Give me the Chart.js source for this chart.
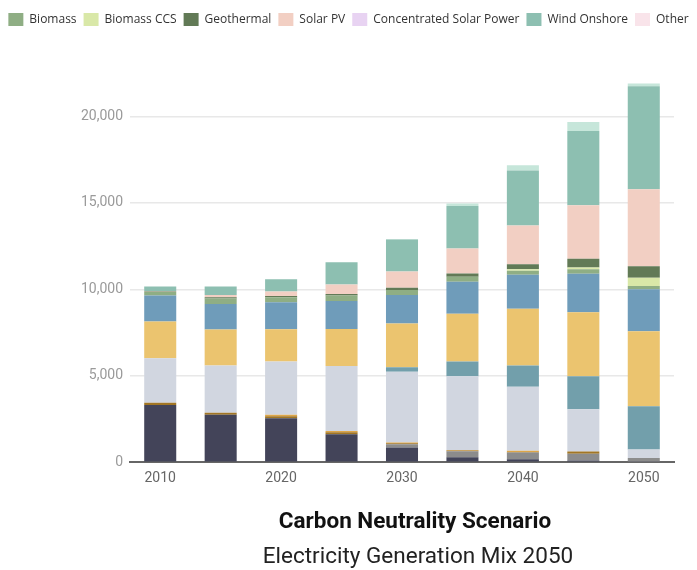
<!DOCTYPE html>
<html>
<head>
<meta charset="utf-8">
<script src="https://cdn.jsdelivr.net/npm/chart.js@4.4.1/dist/chart.umd.min.js"></script>
<style>
  body { margin: 0; background: #fff; }
  #wrap { position: relative; width: 697px; height: 570px; }
  #title, #subtitle {
    position: absolute; width: 500px; text-align: center;
    font-family: Roboto, sans-serif; line-height: 1; white-space: nowrap;
  }
  #title { left: 165px; top: 509px; font-size: 22.5px; font-weight: bold; color: #111; }
  #subtitle { left: 168px; top: 544px; font-size: 22.5px; color: #222; }
</style>
</head>
<body>
<div id="wrap">
  <canvas id="myChart" width="697" height="570"></canvas>
  <div id="title">Carbon Neutrality Scenario</div>
  <div id="subtitle">Electricity Generation Mix 2050</div>
</div>
<script>
var years = ["2010", "2015", "2020", "2025", "2030", "2035", "2040", "2045", "2050"];
var yTicks = [0, 5000, 10000, 15000, 20000];

var coal         = [3310, 2740, 2540, 1620, 850, 290, 170, 100, 20];
var coalCcs      = [0, 0, 0, 0, 190, 350, 390, 390, 230];
var oil          = [130, 120, 120, 110, 60, 30, 30, 130, 0];
var oilOther     = [0, 0, 90, 80, 40, 30, 70, 0, 0];
var gas          = [2580, 2740, 3080, 3760, 4090, 4280, 3700, 2450, 480];
var gasCcs       = [0, 0, 0, 0, 270, 850, 1230, 1910, 2510];
var nuclear      = [2120, 2080, 1870, 2140, 2520, 2760, 3290, 3700, 4340];
var hydro        = [1500, 1480, 1560, 1620, 1660, 1850, 1970, 2220, 2430];
var biomass      = [210, 310, 290, 310, 290, 290, 230, 270, 190];
var biomassCcs   = [0, 0, 0, 0, 0, 0, 80, 100, 480];
var geothermal   = [30, 80, 60, 100, 120, 190, 290, 500, 660];
var solarPv      = [20, 130, 270, 540, 940, 1450, 2250, 3100, 4450];
var csp          = [0, 0, 0, 0, 0, 0, 0, 0, 0];
var windOnshore  = [270, 480, 710, 1290, 1850, 2450, 3180, 4300, 5970];
var windOffshore = [0, 0, 0, 0, 30, 150, 310, 520, 160];
var other        = [0, 0, 0, 0, 0, 0, 0, 0, 0];

var shownInLegend = ["Biomass", "Biomass CCS", "Geothermal", "Solar PV",
  "Concentrated Solar Power", "Wind Onshore", "Other"];

function series(label, data, color) {
  return { label: label, data: data, backgroundColor: color, borderWidth: 0 };
}

// extra room under the legend
var legendGap = {
  id: "legendGap",
  beforeInit: function (chart) {
    var fit = chart.legend.fit;
    chart.legend.fit = function () {
      fit.bind(chart.legend)();
      this.height += 46;
    };
  },
};

var ctx = document.getElementById("myChart").getContext("2d");
var myChart = new Chart(ctx, {
  type: "bar",
  data: {
    labels: years,
    datasets: [
      series("Coal", coal, "#434459"),
      series("Coal CCS", coalCcs, "#8c8c8c"),
      series("Oil", oil, "#a27624"),
      series("Oil Other", oilOther, "#dea648"),
      series("Gas", gas, "#d1d6e0"),
      series("Gas CCS", gasCcs, "#729fab"),
      series("Nuclear", nuclear, "#ebc46f"),
      series("Hydro", hydro, "#6f9cba"),
      series("Biomass", biomass, "#8fae84"),
      series("Biomass CCS", biomassCcs, "#d9e8a8"),
      series("Geothermal", geothermal, "#627a56"),
      series("Solar PV", solarPv, "#f2cfc3"),
      series("Concentrated Solar Power", csp, "#e8d3f2"),
      series("Wind Onshore", windOnshore, "#8dbfb1"),
      series("Wind Offshore", windOffshore, "#c6e6da"),
      series("Other", other, "#f9e4ea"),
    ],
  },
  plugins: [legendGap],
  options: {
    responsive: false,
    animation: false,
    layout: { padding: { left: 0, right: 0, top: 6, bottom: 83 } },
    datasets: { bar: { categoryPercentage: 1, barPercentage: 0.53 } },
    plugins: {
      legend: {
        position: "top",
        labels: {
          boxWidth: 15,
          boxHeight: 13,
          padding: 7,
          color: "#333",
          font: { family: "'Open Sans'", size: 12 },
          filter: function (item) {
            return shownInLegend.indexOf(item.text) !== -1;
          },
        },
      },
      tooltip: { enabled: false },
    },
    scales: {
      x: {
        stacked: true,
        grid: { display: false },
        border: { color: "#666", width: 2 },
        ticks: {
          color: "#666",
          padding: 0,
          autoSkip: false,
          maxRotation: 0,
          font: { family: "Roboto", size: 14 },
          callback: function (value, index) {
            return index % 2 === 0 ? this.getLabelForValue(value) : "";
          },
        },
      },
      y: {
        stacked: true,
        min: 0,
        max: 22000,
        border: { display: false },
        afterFit: function (axis) { axis.width = 130; },
        afterBuildTicks: function (axis) {
          axis.ticks = yTicks.map(function (v) { return { value: v }; });
        },
        grid: { color: "#e8e8e8", lineWidth: 1.5, drawTicks: false },
        ticks: {
          padding: 7,
          color: "#9a9a9a",
          font: { family: "Roboto", size: 14 },
          callback: function (value) { return value.toLocaleString("en-US"); },
        },
      },
      yRight: {
        position: "right",
        display: true,
        grid: { display: false },
        border: { display: false },
        ticks: { display: false },
        afterFit: function (axis) { axis.width = 23; },
      },
    },
  },
});
</script>
</body>
</html>
